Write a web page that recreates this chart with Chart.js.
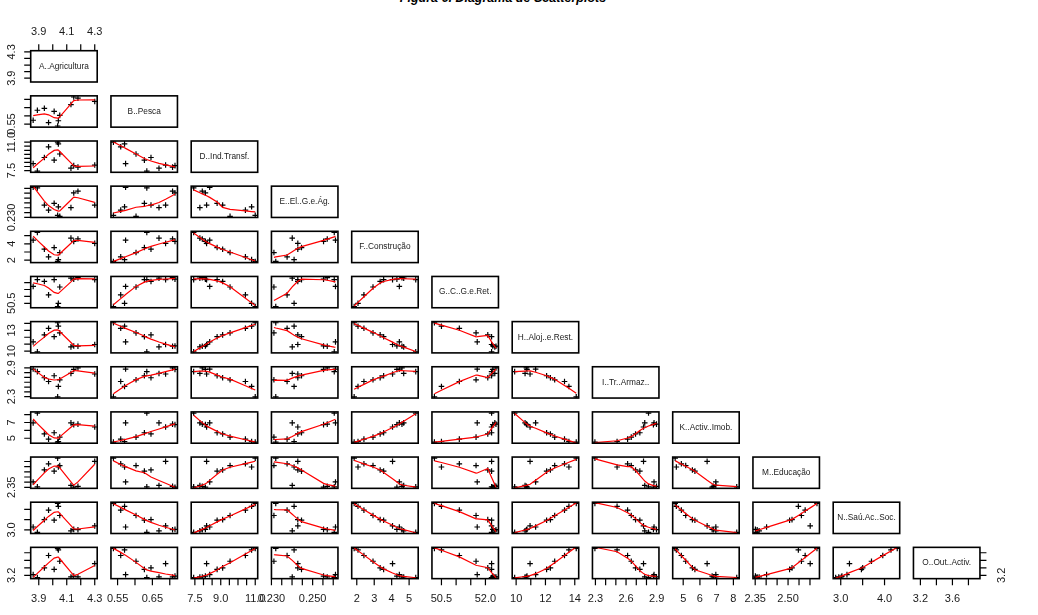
<!DOCTYPE html>
<html><head><meta charset="utf-8">
<script src="https://cdn.jsdelivr.net/npm/chart.js@4"></script>
<style>
html,body{margin:0;padding:0;background:#fff;}
#wrap{position:relative;width:1038px;height:615px;overflow:hidden;background:#fff;}
#wrap canvas{position:absolute;}
#title{position:absolute;left:0;width:1006px;top:-9px;text-align:center;font:italic bold 12.5px "Liberation Sans",Arial,sans-serif;color:#000;white-space:nowrap;}
</style></head><body>
<div id="wrap"><div id="title">Figura 6. Diagrama de Scatterplots</div></div>
<script>
// ---------- DATA (one value per observation) ----------
const varNames = ["A..Agricultura","B..Pesca","D..Ind.Transf.","E..El..G.e.Ág.","F..Construção","G..C..G.e.Ret.","H..Aloj..e.Rest.","I..Tr..Armaz..","K..Activ..Imob.","M..Educação","N..Saú.Ac..Soc.","O..Out..Activ."];
const agricultura   = [3.89, 4.13, 4.18, 4.15, 4.30, 3.86, 4.01, 3.94, 4.05, 3.97, 4.04, 4.035];
const pesca         = [0.634, 0.669, 0.708, 0.715, 0.688, 0.573, 0.627, 0.646, 0.603, 0.559, 0.570, 0.538];
const indTransf     = [7.43, 7.79, 7.93, 8.11, 8.18, 8.36, 8.79, 9.11, 9.54, 10.43, 10.79, 11.0];
const electricidade = [0.2605, 0.2401, 0.2571, 0.2553, 0.2428, 0.2611, 0.2446, 0.2428, 0.2312, 0.2376, 0.2410, 0.2321];
const construcao    = [5.38, 4.69, 4.59, 4.30, 4.05, 4.44, 3.54, 3.34, 2.93, 2.41, 2.07, 1.85];
const comercio      = [52.21, 52.32, 52.36, 52.25, 52.21, 51.72, 52.21, 52.08, 51.68, 51.11, 50.50, 50.26];
const alojamento    = [9.9, 10.61, 10.70, 10.74, 10.95, 11.33, 12.08, 12.34, 12.63, 13.30, 13.60, 14.1];
const transportes   = [2.820, 2.783, 2.898, 2.868, 2.771, 2.874, 2.735, 2.693, 2.651, 2.615, 2.512, 2.295];
const imobiliarias  = [8.2, 6.95, 6.80, 6.73, 6.43, 6.95, 5.70, 5.55, 5.15, 4.89, 4.59, 4.52];
const educacao      = [2.354, 2.368, 2.359, 2.351, 2.601, 2.402, 2.507, 2.518, 2.561, 2.578, 2.547, 2.632];
const saude         = [2.884, 2.955, 3.013, 3.027, 3.199, 3.142, 3.472, 3.501, 3.702, 3.960, 4.147, 4.29];
const outras        = [3.144, 3.159, 3.159, 3.182, 3.513, 3.221, 3.359, 3.398, 3.575, 3.728, 3.875, 3.913];
const series = [agricultura, pesca, indTransf, electricidade, construcao, comercio, alojamento, transportes, imobiliarias, educacao, saude, outras];

// ---------- TICKS ----------
const ticksAll = [
  [3.9,4.0,4.1,4.2,4.3],
  [0.55,0.60,0.65,0.70],
  [7.5,8,8.5,9,9.5,10,10.5,11],
  [0.230,0.235,0.240,0.245,0.250,0.255,0.260],
  [2,3,4,5],
  [50.5,51,51.5,52],
  [10,11,12,13,14],
  [2.3,2.4,2.5,2.6,2.7,2.8,2.9],
  [5,6,7,8],
  [2.35,2.40,2.45,2.50,2.55,2.60],
  [3.0,3.5,4.0],
  [3.2,3.4,3.6,3.8]
];
const xTickLabels = [
  ["3.9","4.1","4.3"],["0.55","0.65"],["7.5","9.0","11.0"],["0.230","0.250"],["2","3","4","5"],
  ["50.5","52.0"],["10","12","14"],["2.3","2.6","2.9"],["5","6","7","8"],["2.35","2.50"],["3.0","4.0"],["3.2","3.6"]
];
const yTickLabels = [
  ["3.9","4.3"],["0.55"],["7.5","11.0"],["0.230"],["2","4"],["50.5"],["10","13"],["2.3","2.9"],["5","7"],["2.35"],["3.0"],["3.2"]
];
const rightTickLabels = ["3.2"];

// ---------- LAYOUT ----------
const PX0 = 30.7, PDX = 80.25, PW = 66.5;
const PY0 = 50.7, PDY = 45.15, PH = 31.3;
const MARGIN = 40, TICK = 6.5;
const TICK_FONT = '11px "Liberation Sans", Arial, sans-serif';
const DIAG_FONT = '8.3px "Liberation Sans", Arial, sans-serif';

function padRange(arr){const mn=Math.min(...arr),mx=Math.max(...arr),d=(mx-mn)*0.04;return [mn-d,mx+d];}

// R-style lowess (port of clowess)
function lowess(xIn,yIn,f,nsteps){
  f=(f===undefined)?2/3:f; nsteps=(nsteps===undefined)?3:nsteps;
  const n=xIn.length;
  const ord=xIn.map((v,i)=>i).sort((a,b)=>xIn[a]-xIn[b]);
  const x=[NaN],y=[NaN];
  ord.forEach(k=>{x.push(xIn[k]);y.push(yIn[k]);});
  const range=x[n]-x[1], delta=0.01*range;
  const ys=new Array(n+1).fill(0),w=new Array(n+1).fill(0),rw=new Array(n+1).fill(1),res=new Array(n+1).fill(0);
  function lowest(xs,nleft,nright,userw){
    const h=Math.max(xs-x[nleft],x[nright]-xs),h9=0.999*h,h1=0.001*h;
    let a=0,j=nleft;
    while(j<=n){
      w[j]=0;const r=Math.abs(x[j]-xs);
      if(r<=h9){
        if(r<=h1)w[j]=1;else{const q=r/h,t=1-q*q*q;w[j]=t*t*t;}
        if(userw)w[j]*=rw[j];
        a+=w[j];
      }else if(x[j]>xs)break;
      j++;
    }
    const nrt=j-1;
    if(a<=0)return null;
    for(j=nleft;j<=nrt;j++)w[j]/=a;
    if(h>0){
      a=0;for(j=nleft;j<=nrt;j++)a+=w[j]*x[j];
      let b=xs-a,c=0;
      for(j=nleft;j<=nrt;j++)c+=w[j]*(x[j]-a)*(x[j]-a);
      if(Math.sqrt(c)>0.001*range){b/=c;for(j=nleft;j<=nrt;j++)w[j]*=(b*(x[j]-a)+1);}
    }
    let s=0;for(j=nleft;j<=nrt;j++)s+=w[j]*y[j];
    return s;
  }
  const ns=Math.max(2,Math.min(n,Math.floor(f*n+1e-7)));
  let iter=1;
  while(iter<=nsteps+1){
    let nleft=1,nright=ns,last=0,i=1;
    for(;;){
      if(nright<n){
        const d1=x[i]-x[nleft],d2=x[nright+1]-x[i];
        if(d1>d2){nleft++;nright++;continue;}
      }
      const v=lowest(x[i],nleft,nright,iter>1);
      ys[i]=(v===null)?y[i]:v;
      if(last<i-1){
        const denom=x[i]-x[last];
        for(let j=last+1;j<i;j++){const al=(x[j]-x[last])/denom;ys[j]=al*ys[i]+(1-al)*ys[last];}
      }
      last=i;
      const cut=x[last]+delta;
      for(i=last+1;i<=n;i++){
        if(x[i]>cut)break;
        if(x[i]===x[last]){ys[i]=ys[last];last=i;}
      }
      i=Math.max(last+1,i-1);
      if(last>=n)break;
    }
    for(let k=1;k<=n;k++)res[k]=y[k]-ys[k];
    let sc=0;for(let k=1;k<=n;k++)sc+=Math.abs(res[k]);sc/=n;
    if(iter>nsteps)break;
    const srt=[];for(let k=1;k<=n;k++)srt.push(Math.abs(res[k]));srt.sort((p,q)=>p-q);
    const m1=Math.floor(n/2);let cmad;
    if(n%2===0){const m2=n-m1-1;cmad=3*(srt[m1]+srt[m2]);}else cmad=6*srt[m1];
    if(cmad<1e-7*sc)break;
    const c9=0.999*cmad,c1=0.001*cmad;
    for(let k=1;k<=n;k++){const r=Math.abs(res[k]);rw[k]=r<=c1?1:(r<=c9?Math.pow(1-(r/cmad)*(r/cmad),2):0);}
    iter++;
  }
  const out=[];for(let k=1;k<=n;k++)out.push({x:x[k],y:ys[k]});
  return out;
}

// plugin: box, axes, diagonal label
const decor = {
  id:'decor',
  afterDraw(chart,args,o){
    const {ctx,chartArea:a,scales}=chart;
    ctx.save();
    ctx.strokeStyle='#000';ctx.lineWidth=1.6;
    ctx.strokeRect(a.left,a.top,a.right-a.left,a.bottom-a.top);
    ctx.fillStyle='#1a1a1a';ctx.font=TICK_FONT;ctx.lineWidth=1.2;
    if(o.label){
      ctx.font=DIAG_FONT;ctx.textAlign='center';ctx.textBaseline='middle';
      ctx.fillText(o.label,(a.left+a.right)/2,(a.top+a.bottom)/2);
      ctx.font=TICK_FONT;
    }
    const xs=scales.x, ysc=scales.y;
    if(o.bottom||o.top){
      const ax=o.bottom||o.top, dir=o.bottom?1:-1, base=o.bottom?a.bottom:a.top;
      ctx.beginPath();
      ax.ticks.forEach(t=>{const p=xs.getPixelForValue(t);ctx.moveTo(p,base);ctx.lineTo(p,base+dir*TICK);});
      ctx.stroke();
      ctx.textAlign='center';ctx.textBaseline='middle';
      ax.labels.forEach(s=>{ctx.fillText(s,xs.getPixelForValue(parseFloat(s)),base+dir*(o.bottom?20:18.4));});
    }
    [['left',-1,a.left,19],['right',1,a.right,21.7]].forEach(([side,dir,base,off])=>{
      const ax=o[side]; if(!ax)return;
      ctx.beginPath();
      ax.ticks.forEach(t=>{const p=ysc.getPixelForValue(t);ctx.moveTo(base,p);ctx.lineTo(base+dir*TICK,p);});
      ctx.stroke();
      ctx.textAlign='center';ctx.textBaseline='middle';
      ax.labels.forEach(s=>{
        const p=ysc.getPixelForValue(parseFloat(s));
        ctx.save();ctx.translate(base+dir*off,p);ctx.rotate(-Math.PI/2);ctx.fillText(s,0,0);ctx.restore();
      });
    });
    ctx.restore();
  }
};

const wrap=document.getElementById('wrap');
const NV=series.length;
for(let i=0;i<NV;i++){
  for(let j=0;j<=i;j++){
    const x0=PX0+PDX*j, y0=PY0+PDY*i;
    const cl=Math.floor(x0)-MARGIN, ct=Math.floor(y0)-MARGIN;
    const cw=Math.ceil(PW+2*MARGIN+2), ch=Math.ceil(PH+2*MARGIN+2);
    const cv=document.createElement('canvas');
    cv.width=cw;cv.height=ch;
    cv.style.left=cl+'px';cv.style.top=ct+'px';cv.style.width=cw+'px';cv.style.height=ch+'px';
    wrap.appendChild(cv);
    const padL=x0-cl, padT=y0-ct;
    const xr=padRange(series[j]), yr=padRange(series[i]);
    const opts={};
    if(i===j) opts.label=varNames[i];
    if(j===0) opts.left={ticks:ticksAll[i],labels:yTickLabels[i]};
    if(i===0&&j===0) opts.top={ticks:ticksAll[0],labels:xTickLabels[0]};
    if(i===NV-1) opts.bottom={ticks:ticksAll[j],labels:xTickLabels[j]};
    if(i===NV-1&&j===NV-1) opts.right={ticks:ticksAll[i],labels:rightTickLabels};
    const datasets=[];
    if(i!==j){
      const pts=series[j].map((v,k)=>({x:v,y:series[i][k]}));
      datasets.push({type:'scatter',data:lowess(series[j],series[i]),showLine:true,borderColor:'#ff0000',borderWidth:1.2,pointRadius:0,fill:false,tension:0,order:0});
      datasets.push({type:'scatter',data:pts,pointStyle:'cross',pointRadius:2.8,borderColor:'#000',backgroundColor:'#000',borderWidth:1.2,order:1});
    }
    new Chart(cv,{
      type:'scatter',
      data:{datasets},
      options:{
        responsive:false,animation:false,events:[],devicePixelRatio:1,
        layout:{padding:{left:padL,top:padT,right:cw-padL-PW,bottom:ch-padT-PH}},
        scales:{x:{type:'linear',min:xr[0],max:xr[1],display:false},y:{type:'linear',min:yr[0],max:yr[1],display:false}},
        plugins:{legend:{display:false},tooltip:{enabled:false},decor:opts}
      },
      plugins:[decor]
    });
  }
}
</script>
</body></html>
